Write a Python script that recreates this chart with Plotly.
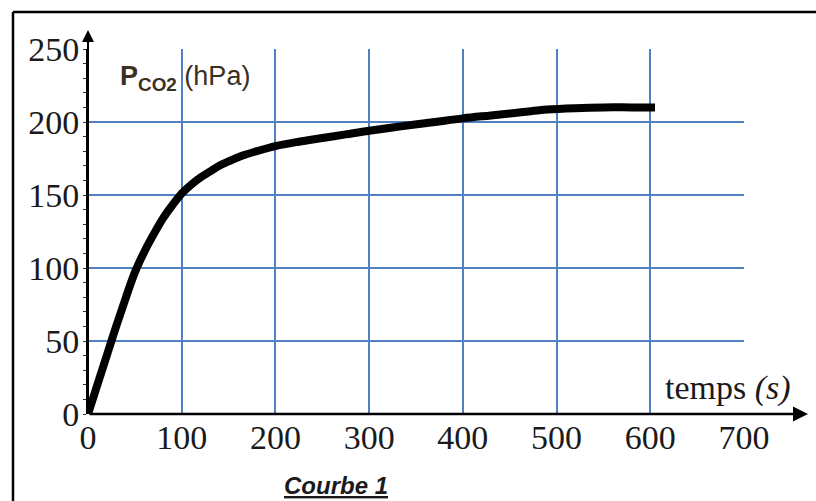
import plotly.graph_objects as go

# Data (temps in s, P_CO2 in hPa)
temps = [0, 10, 20, 30, 40, 50, 60, 70, 80, 90, 100, 110, 120, 130, 140, 150, 165, 180, 200,
         225, 250, 275, 300, 334, 370, 400, 430, 460, 490, 520, 550, 580, 605]
p_co2 = [0, 20, 40, 60, 79, 97, 111, 123, 134, 143, 151, 157, 162, 166, 170, 173, 177, 180, 183.5,
         186.5, 189, 191.5, 194, 197, 200, 202.5, 204.5, 206.5, 208.5, 209.5, 210, 210, 210]

x_ticks = [0, 100, 200, 300, 400, 500, 600, 700]
y_ticks = [0, 50, 100, 150, 200, 250]

# body margin is removed by a post script, so the figure sits at (0, 0)
W, H = 816, 501
PL, PR, PT, PB = 88, 744, 49, 414   # plot area in window pixels
L, T = PL, PT
pw, ph = PR - PL, PB - PT
R = W - L - pw
B = H - T - ph


def px(xp):
    return (xp - PL) / pw


def py(yp):
    return (PB - yp) / ph


grid_blue = "#4f81c4"
serif = "Liberation Serif, Times New Roman, serif"
sans = "Liberation Sans, Arial, sans-serif"

fig = go.Figure()
fig.add_trace(go.Scatter(
    x=temps, y=p_co2, mode="lines",
    line=dict(color="black", width=8, shape="spline", smoothing=1.0),
    showlegend=False, hoverinfo="skip",
))

fig.update_layout(
    width=W, height=H,
    margin=dict(l=L, r=R, t=T, b=B, autoexpand=False),
    paper_bgcolor="white", plot_bgcolor="white",
    xaxis=dict(
        range=[0, 700], tickvals=x_ticks, ticktext=[str(v) for v in x_ticks],
        showgrid=True, gridcolor=grid_blue, gridwidth=2,
        zeroline=False, showline=False, automargin=False,
        ticks="", ticklen=0,
        tickfont=dict(family=serif, size=34, color="#1a1a1a"),
        fixedrange=True,
    ),
    yaxis=dict(
        range=[0, 250], tickvals=y_ticks, ticktext=[str(v) for v in y_ticks],
        showgrid=True, gridcolor=grid_blue, gridwidth=2,
        zeroline=False, showline=True, linecolor="black", linewidth=2,
        ticks="", ticklen=0, automargin=False,
        minor=dict(ticks="outside", ticklen=3, tickcolor="#333", dtick=10, showgrid=False),
        tickfont=dict(family=serif, size=34, color="#1a1a1a"),
        fixedrange=True,
    ),
)

# Outer frame (left and top edges; the others are outside the picture)
fig.add_shape(type="line", xref="paper", yref="paper",
              x0=px(13), y0=py(12), x1=px(816), y1=py(12),
              line=dict(color="black", width=2.5), layer="below")
fig.add_shape(type="line", xref="paper", yref="paper",
              x0=px(13), y0=py(12), x1=px(13), y1=py(501),
              line=dict(color="black", width=2.5), layer="below")

# Axis arrows
fig.add_annotation(x=px(808), y=0, xref="paper", yref="paper", ax=-(808 - PL), ay=0,
                   text="", showarrow=True, arrowhead=2, arrowsize=1.2, arrowwidth=2.5, arrowcolor="black")
fig.add_annotation(x=0, y=py(30), xref="paper", yref="paper", ax=0, ay=(PB - 30),
                   text="", showarrow=True, arrowhead=2, arrowsize=1.2, arrowwidth=2, arrowcolor="black")

# Labels
fig.add_annotation(x=px(118), y=py(78), xref="paper", yref="paper", xanchor="left", yanchor="middle",
                   text="<b>P<sub>CO2</sub></b> (hPa)", showarrow=False,
                   font=dict(family=sans, size=27, color="#3b3020"))
fig.add_annotation(x=px(663), y=py(388), xref="paper", yref="paper", xanchor="left", yanchor="middle",
                   text="temps <i>(s)</i>", showarrow=False,
                   font=dict(family=serif, size=34, color="#1a1a1a"))
fig.add_annotation(x=px(336), y=py(485), xref="paper", yref="paper", xanchor="center", yanchor="middle",
                   text="<b><i><u>Courbe 1</u></i></b>", showarrow=False,
                   font=dict(family=sans, size=24, color="#1a1a1a"))

fig.write_html("out.html",
               config={"displayModeBar": False, "staticPlot": True},
               post_script="document.body.style.margin='0';document.body.style.overflow='hidden';")
